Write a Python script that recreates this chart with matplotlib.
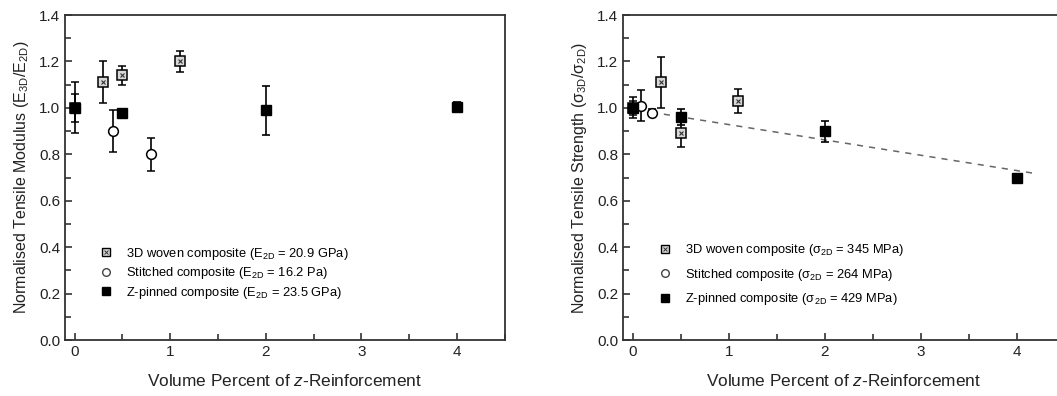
import matplotlib.pyplot as plt
from matplotlib.ticker import MultipleLocator
from matplotlib.legend_handler import HandlerTuple

plt.rcParams['font.family'] = ['Liberation Sans', 'DejaVu Sans']
plt.rcParams['mathtext.fontset'] = 'custom'
plt.rcParams['mathtext.rm'] = 'Liberation Sans'
plt.rcParams['mathtext.it'] = 'Liberation Sans:italic'

# ---- modulus (left panel) ----
mod_woven_x = [0.0, 0.3, 0.5, 1.1]
mod_woven_y = [1.00, 1.11, 1.14, 1.20]
mod_woven_err = [0.06, 0.09, 0.04, 0.045]

mod_stitch_x = [0.0, 0.4, 0.8]
mod_stitch_y = [1.00, 0.90, 0.80]
mod_stitch_err = [0.11, 0.09, 0.07]

mod_pin_x = [0.0, 0.5, 2.0, 4.0]
mod_pin_y = [1.00, 0.98, 0.99, 1.005]
mod_pin_err = [0.0, 0.015, 0.105, 0.02]

# ---- strength (right panel) ----
str_woven_x = [0.0, 0.3, 0.5, 1.1]
str_woven_y = [1.00, 1.11, 0.89, 1.03]
str_woven_err = [0.03, 0.11, 0.06, 0.052]

str_stitch_x = [0.0, 0.09, 0.2]
str_stitch_y = [1.00, 1.01, 0.98]
str_stitch_err = [0.045, 0.068, 0.015]

str_pin_x = [0.0, 0.5, 2.0, 4.0]
str_pin_y = [1.00, 0.96, 0.90, 0.70]
str_pin_err = [0.0, 0.035, 0.045, 0.0]

trend_x = [0.2, 4.18]
trend_y = [0.981, 0.718]

mod_labels = [r'3D woven composite (E$_\mathrm{2D}$ = 20.9 GPa)',
              r'Stitched composite (E$_\mathrm{2D}$ = 16.2 Pa)',
              r'Z-pinned composite (E$_\mathrm{2D}$ = 23.5 GPa)']
str_labels = [r'3D woven composite (σ$_\mathrm{2D}$ = 345 MPa)',
              r'Stitched composite (σ$_\mathrm{2D}$ = 264 MPa)',
              r'Z-pinned composite (σ$_\mathrm{2D}$ = 429 MPa)']

fig = plt.figure(figsize=(10.57, 3.96), dpi=100)
ax1 = fig.add_axes([0.0615, 0.1414, 0.416, 0.8207])
ax2 = fig.add_axes([0.5894, 0.1414, 0.418, 0.8207])

ebkw = dict(ls='none', ecolor='black', elinewidth=1.2, capsize=3.2, capthick=1.2)


def draw(ax, wx, wy, we, sx, sy, se, px, py, pe, labels, leg_anchor, spacing):
    ax.errorbar(wx, wy, yerr=we, marker='s', ms=6.5, mfc='#d8d8d8', mec='black',
                mew=1.1, zorder=3, **ebkw)
    ax.plot(wx, wy, ls='none', marker='x', ms=3.5, mec='#333333', mew=0.8, zorder=4)
    ax.errorbar(sx, sy, yerr=se, marker='o', ms=7, mfc='white', mec='black',
                mew=1.1, zorder=5, **ebkw)
    ax.errorbar(px, py, yerr=pe, marker='s', ms=7, mfc='black', mec='black',
                zorder=6, **ebkw)
    hs, = ax.plot([], [], ls='none', marker='s', ms=5.5, mfc='#d8d8d8', mec='black', mew=1)
    hxs, = ax.plot([], [], ls='none', marker='x', ms=3, mec='#333333', mew=0.7)
    ho, = ax.plot([], [], ls='none', marker='o', ms=5.5, mfc='white', mec='#444444', mew=1)
    hp, = ax.plot([], [], ls='none', marker='s', ms=5.5, mfc='black', mec='black')
    ax.legend([(hs, hxs), ho, hp], labels, loc='upper left', bbox_to_anchor=leg_anchor,
              frameon=False, fontsize=9.3, handlelength=1.2, handletextpad=1.0,
              labelspacing=spacing, borderpad=0,
              handler_map={tuple: HandlerTuple(ndivide=1)})

    ax.set_xlim(-0.1, 4.5)
    ax.set_ylim(0, 1.4)
    ax.xaxis.set_major_locator(MultipleLocator(1))
    ax.xaxis.set_minor_locator(MultipleLocator(0.5))
    ax.yaxis.set_major_locator(MultipleLocator(0.2))
    ax.yaxis.set_minor_locator(MultipleLocator(0.1))
    ax.yaxis.set_major_formatter(plt.FormatStrFormatter('%.1f'))
    ax.tick_params(which='both', direction='in', top=False, right=False,
                   labelsize=11, colors='#222222', width=1.1)
    ax.tick_params(which='major', length=5)
    ax.tick_params(which='minor', length=4)
    for s in ax.spines.values():
        s.set_linewidth(1.3)
        s.set_color('#333333')
    ax.set_xlabel(r'Volume Percent of $z$-Reinforcement', fontsize=12.4, color='#222222',
                  labelpad=10)


draw(ax1, mod_woven_x, mod_woven_y, mod_woven_err, mod_stitch_x, mod_stitch_y,
     mod_stitch_err, mod_pin_x, mod_pin_y, mod_pin_err, mod_labels, (0.06, 0.31), 0.27)
ax1.set_ylabel(r'Normalised Tensile Modulus (E$_\mathrm{3D}$/E$_\mathrm{2D}$)', fontsize=11.5,
               color='#222222', labelpad=6)

ax2.plot(trend_x, trend_y, ls=(0, (4, 4)), color='#666666', lw=1.1, zorder=2)
draw(ax2, str_woven_x, str_woven_y, str_woven_err, str_stitch_x, str_stitch_y,
     str_stitch_err, str_pin_x, str_pin_y, str_pin_err, str_labels, (0.062, 0.32), 0.65)
ax2.set_ylabel(r'Normalised Tensile Strength (σ$_\mathrm{3D}$/σ$_\mathrm{2D}$)', fontsize=11.5,
               color='#222222', labelpad=6)

fig.savefig('out.png', dpi=100)
